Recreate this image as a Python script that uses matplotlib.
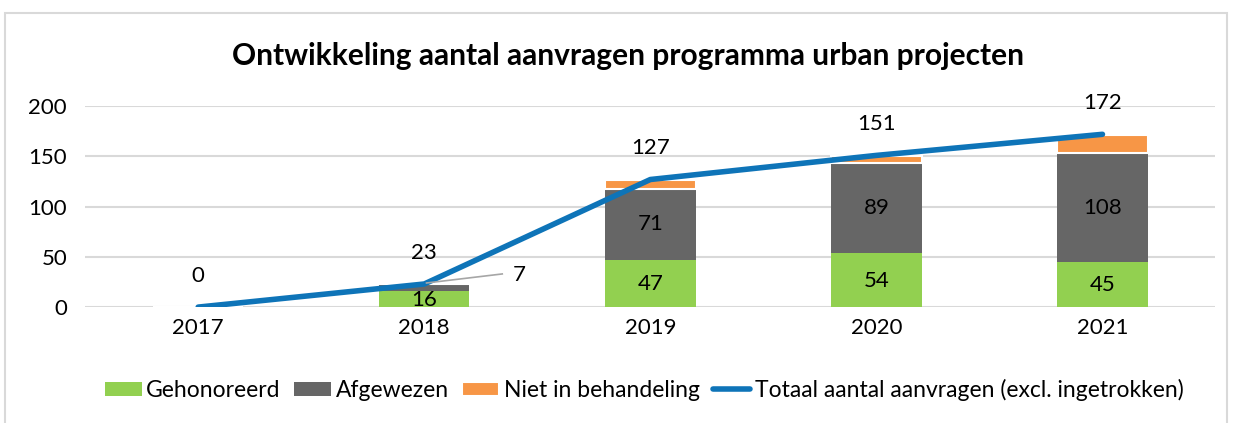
import matplotlib
matplotlib.use("Agg")
import matplotlib.pyplot as plt
import numpy as np
from matplotlib.patches import Rectangle

plt.rcParams['font.family'] = ['Lato', 'DejaVu Sans']

jaren = ['2017', '2018', '2019', '2020', '2021']
gehonoreerd = [0, 16, 47, 54, 45]
afgewezen = [0, 7, 71, 89, 108]
niet_in_behandeling = [0, 0, 9, 7, 18]
totaal = [0, 23, 127, 151, 172]

groen = '#92D050'
grijs = '#666666'
oranje = '#F79646'
blauw = '#0E74B8'
fs = 16

fig = plt.figure(figsize=(12.34, 4.23), dpi=100)
ax = fig.add_axes([0.069, 0.274, 0.916, 0.475])

x = np.arange(len(jaren))
w = 0.4
b1 = ax.bar(x, gehonoreerd, w, color=groen, zorder=2)
b2 = ax.bar(x, afgewezen, w, bottom=gehonoreerd, color=grijs, zorder=2)
bodem = np.array(gehonoreerd) + np.array(afgewezen)
b3 = ax.bar(x, niet_in_behandeling, w, bottom=bodem, color=oranje,
            edgecolor='white', linewidth=1.5, zorder=2)
lijn, = ax.plot(x, totaal, color=blauw, linewidth=4, zorder=3,
                solid_capstyle='round')

# labels in de balken
for i in range(len(jaren)):
    if gehonoreerd[i] > 0:
        ax.text(x[i], gehonoreerd[i] / 2 - 1, str(gehonoreerd[i]),
                ha='center', va='center', fontsize=fs, zorder=4)
    if afgewezen[i] > 10:
        ax.text(x[i], gehonoreerd[i] + afgewezen[i] / 2, str(afgewezen[i]),
                ha='center', va='center', fontsize=fs, zorder=4)

# 2018 afgewezen: label naast de balk met hulplijn
ax.plot([1.01, 1.345], [24, 33], color='#A6A6A6', linewidth=1.2, zorder=3)
ax.text(1.42, 32, str(afgewezen[1]), ha='center', va='center', fontsize=fs)

# totalen boven de lijn
for i in range(len(jaren)):
    ax.text(x[i], totaal[i] + 31, str(totaal[i]), ha='center', va='center',
            fontsize=fs, clip_on=False)

ax.set_xlim(-0.5, 4.5)
ax.set_ylim(0, 200)
ax.set_yticks([0, 50, 100, 150, 200])
ax.set_xticks(x)
ax.set_xticklabels(jaren)
ax.tick_params(length=0, labelsize=fs, pad=8)
ax.tick_params(axis='y', pad=13)
ax.grid(axis='y', color='#D9D9D9', linewidth=1.5, zorder=0)
ax.set_axisbelow(True)
for s in ax.spines.values():
    s.set_visible(False)

fig.text(0.509, 0.868, 'Ontwikkeling aantal aanvragen programma urban projecten',
         ha='center', va='center', fontsize=21.5, fontweight='bold')

fig.legend([b1, b2, b3, lijn],
           ['Gehonoreerd', 'Afgewezen', 'Niet in behandeling',
            'Totaal aantal aanvragen (excl. ingetrokken)'],
           loc='center', bbox_to_anchor=(0.522, 0.078), ncol=4, frameon=False,
           fontsize=16.5, handlelength=1.6, handleheight=0.6, handletextpad=0.2,
           columnspacing=0.6)

# kader rond de grafiek
fig.patches.append(Rectangle((0.004, -0.05), 0.99, 1.02, transform=fig.transFigure,
                             fill=False, edgecolor='#D9D9D9', linewidth=1.5))

fig.savefig('out.png', dpi=100)
